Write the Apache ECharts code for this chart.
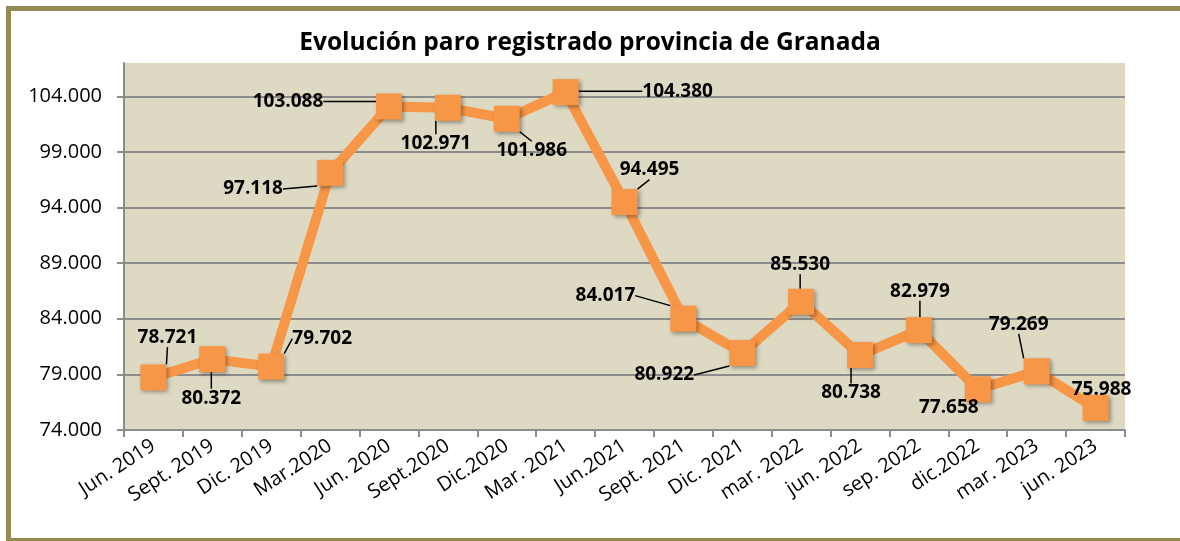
<!DOCTYPE html>
<html>
<head>
<meta charset="utf-8">
<title>Evolución paro registrado provincia de Granada</title>
<script src="https://cdn.jsdelivr.net/npm/echarts@6/dist/echarts.min.js"></script>
<style>
  html, body { margin: 0; padding: 0; background: #fff; }
  #main { width: 1180px; height: 541px; }
</style>
</head>
<body>
<div id="main"></div>
<script>
// periodos (eje x)
var periodos = ['Jun. 2019', 'Sept. 2019', 'Dic. 2019', 'Mar.2020', 'Jun. 2020', 'Sept.2020',
  'Dic.2020', 'Mar. 2021', 'Jun.2021', 'Sept. 2021', 'Dic. 2021', 'mar. 2022',
  'jun. 2022', 'sep. 2022', 'dic.2022', 'mar. 2023', 'jun. 2023'];

// paro registrado
var parados = [78721, 80372, 79702, 97118, 103088, 102971, 101986, 104380, 94495,
  84017, 80922, 85530, 80738, 82979, 77658, 79269, 75988];

// eje y
var yMin = 74000;
var yMax = 107000;
var yPaso = 5000;

// desplazamiento de cada etiqueta respecto a su punto (px)
var etiquetaDx = [14, -1, 51, -77, -101, -12, 25, 112, 25, -78, -78, -1, -9, 1, -29, -18, 6];
var etiquetaDy = [-40, 39, -28, 16, -5, 36, 32, -1, -32, -23, 22, -37, 38, -39, 18, -47, -18];
// las que no llevan linea guia
var sinGuia = [14, 16];

function puntos(v) {
  // 104000 -> 104.000
  return String(v).replace(/\B(?=(\d{3})+(?!\d))/g, '.');
}

var datos = parados.map(function (v, i) {
  if (sinGuia.indexOf(i) >= 0) {
    return { value: v, labelLine: { show: false } };
  }
  return v;
});

var chart = echarts.init(document.getElementById('main'));

chart.setOption({
  animation: false,
  textStyle: { fontFamily: 'Open Sans' },
  title: {
    text: 'Evolución paro registrado provincia de Granada',
    left: 'center',
    top: 26,
    textStyle: { fontFamily: 'Open Sans', fontWeight: 'bold', fontSize: 24.5, color: '#000' }
  },
  graphic: [{
    type: 'rect',
    shape: { x: 8.5, y: 8.5, width: 1180, height: 532 },
    style: { fill: null, stroke: '#948A54', lineWidth: 5 },
    silent: true
  }],
  grid: {
    left: 124, right: 55, top: 63, bottom: 111,
    show: true,
    backgroundColor: '#DDD9C3',
    borderWidth: 0
  },
  xAxis: {
    type: 'category',
    data: periodos,
    boundaryGap: true,
    axisLine: { show: true, lineStyle: { color: '#8C8C8C', width: 2 } },
    axisTick: { show: true, alignWithLabel: false, length: 7, lineStyle: { color: '#8C8C8C', width: 2 } },
    axisLabel: {
      rotate: 33,
      margin: 14,
      interval: 0,
      fontSize: 20,
      color: '#000',
      fontFamily: 'Open Sans'
    }
  },
  yAxis: {
    type: 'value',
    min: yMin,
    max: yMax,
    interval: yPaso,
    axisLine: { show: true, lineStyle: { color: '#8C8C8C', width: 2 } },
    axisTick: { show: true, inside: false, length: 7, lineStyle: { color: '#8C8C8C', width: 2 } },
    axisLabel: {
      margin: 22,
      fontSize: 20,
      color: '#000',
      fontFamily: 'Open Sans',
      showMaxLabel: false,
      formatter: function (v) { return puntos(v); }
    },
    splitLine: { show: true, showMaxLine: false, showMinLine: false, lineStyle: { color: '#8C8C8C', width: 2 } }
  },
  series: [{
    type: 'line',
    data: datos,
    symbol: 'rect',
    symbolSize: 26,
    lineStyle: { color: '#F79646', width: 10 },
    itemStyle: {
      color: '#F79646',
      shadowColor: 'rgba(0,0,0,0.35)',
      shadowBlur: 4,
      shadowOffsetX: 2,
      shadowOffsetY: 2
    },
    label: {
      show: true,
      position: 'inside',
      fontFamily: 'Open Sans',
      fontWeight: 'bold',
      fontSize: 19,
      color: '#000',
      formatter: function (p) { return puntos(p.value); }
    },
    labelLine: {
      show: true,
      lineStyle: { color: '#000', width: 1.5 }
    },
    labelLayout: function (p) {
      var i = p.dataIndex;
      return { dx: etiquetaDx[i], dy: etiquetaDy[i], hideOverlap: false };
    },
    emphasis: { disabled: true }
  }]
});
</script>
</body>
</html>
